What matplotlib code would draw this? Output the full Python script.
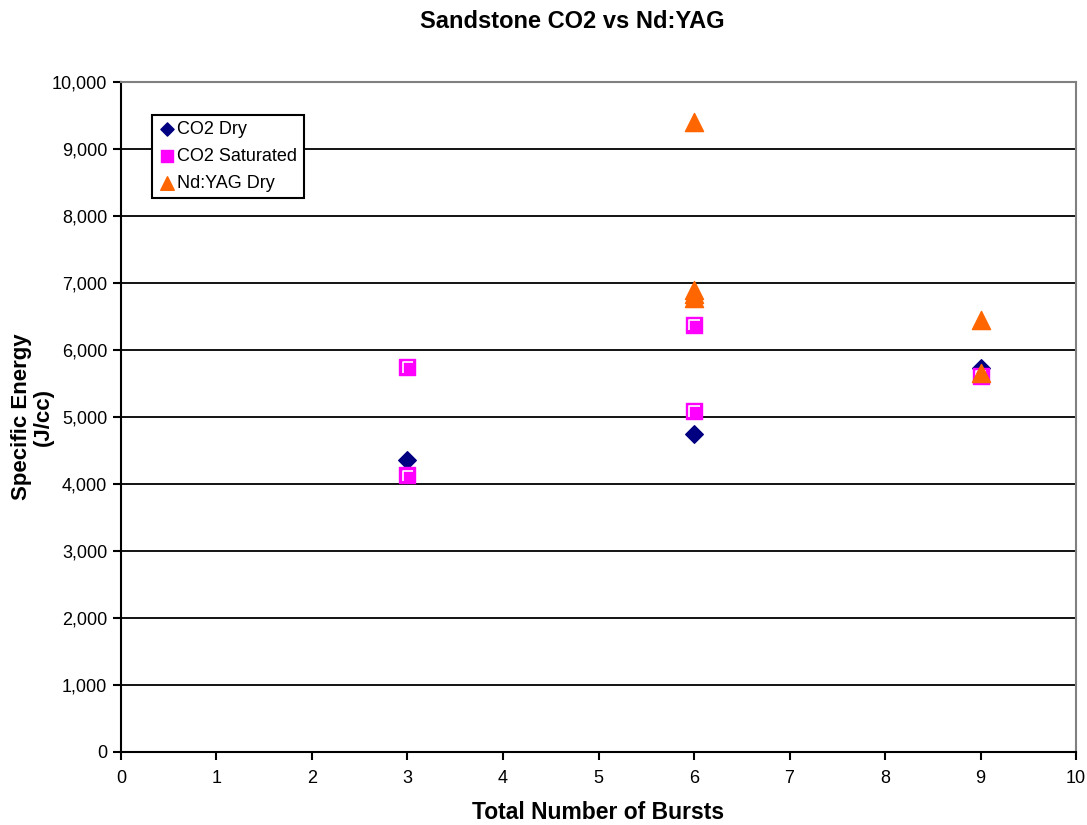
import matplotlib
matplotlib.use('Agg')
import matplotlib.pyplot as plt
from matplotlib.path import Path

plt.rcParams['font.family'] = ['Liberation Sans', 'DejaVu Sans']

# dados
co2_dry_x = [3, 6, 9]
co2_dry_y = [4360, 4750, 5730]

co2_sat_x = [3, 3, 6, 6, 9]
co2_sat_y = [5750, 4130, 6380, 5090, 5610]

ndyag_x = [6, 6, 6, 6, 9, 9]
ndyag_y = [9410, 6900, 6840, 6780, 6450, 5660]

yticks = list(range(0, 10001, 1000))
xticks = list(range(0, 11))

fig = plt.figure(figsize=(10.87, 8.25), dpi=100)
ax = fig.add_axes([0.1113, 0.0885, 0.8786, 0.8121])

# canto branco dentro do quadrado (estilo excel)
canto = Path([(-1, -1), (-0.6, -0.75), (-0.6, 0.6), (0.75, 0.6)],
             [Path.MOVETO, Path.MOVETO, Path.LINETO, Path.LINETO])

ax.scatter(co2_dry_x, co2_dry_y, marker='D', s=80, color='#000080', label='CO2 Dry', zorder=3)
ax.scatter(co2_sat_x, co2_sat_y, marker='s', s=125, color='#FF00FF', label='CO2 Saturated', zorder=4)
ax.scatter(co2_sat_x, co2_sat_y, marker=canto, s=125, facecolors='none', edgecolors='white',
           linewidths=1.2, zorder=4.5)
ax.scatter(ndyag_x, ndyag_y, marker='^', s=170, color='#FF6600', label='Nd:YAG Dry', zorder=5)

ax.set_xlim(0, 10)
ax.set_ylim(0, 10000)
ax.set_xticks(xticks)
ax.set_yticks(yticks)
ax.set_yticklabels([f'{v:,}' for v in yticks])
ax.tick_params(axis='both', labelsize=13, direction='out', length=6, width=1.5, color='black')
ax.tick_params(axis='x', pad=7)
ax.tick_params(axis='y', pad=4)

ax.grid(True, axis='y', color='black', linewidth=1.3, zorder=1)
ax.set_axisbelow(True)

ax.spines['left'].set_color('black')
ax.spines['left'].set_linewidth(1.5)
ax.spines['bottom'].set_color('black')
ax.spines['bottom'].set_linewidth(1.5)
ax.spines['top'].set_color('#808080')
ax.spines['top'].set_linewidth(1.5)
ax.spines['right'].set_color('#808080')
ax.spines['right'].set_linewidth(1.5)

ax.set_xlabel('Total Number of Bursts', fontsize=16.5, fontweight='bold', labelpad=10)
fig.text(32 / 1087, 1 - 417 / 825, 'Specific Energy\n(J/cc)', rotation=90, fontsize=16,
         fontweight='bold', ha='center', va='center', linespacing=1.05)
fig.text(572 / 1087, 1 - 21 / 825, 'Sandstone CO2 vs Nd:YAG', fontsize=17, fontweight='bold',
         ha='center', va='center')

leg = ax.legend(loc='upper left', bbox_to_anchor=(0.0325, 0.951), fontsize=13,
                frameon=True, fancybox=False, edgecolor='black', framealpha=1,
                handletextpad=0.05, borderpad=0.35, labelspacing=0.55, handlelength=1.0,
                markerscale=0.75, borderaxespad=0)
leg.get_frame().set_linewidth(1.5)

fig.savefig('out.png', dpi=100)
